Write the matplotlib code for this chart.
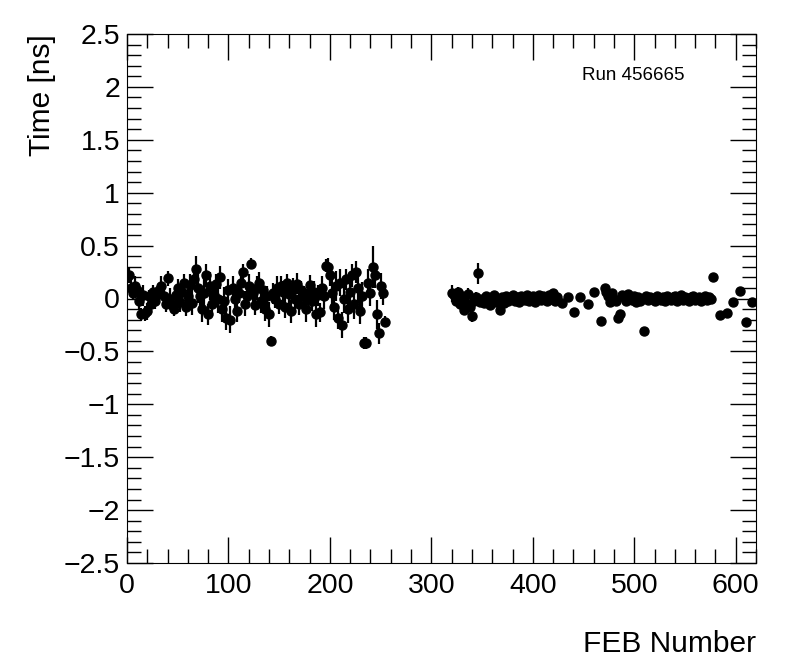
import numpy as np
import matplotlib.pyplot as plt
from matplotlib.ticker import MultipleLocator

plt.rcParams['font.family'] = ['Liberation Sans', 'DejaVu Sans']

# FEB 0-254 (every other FEB)
feb_a = np.arange(0, 256, 2)
time_a = [0.20, 0.22, 0.10, 0.05, 0.12, 0.08, -0.02, -0.15, 0.03, -0.14, -0.12, 0.02, -0.05, 0.06, -0.02, 0.04,
          0.08, 0.12, 0.02, -0.05, 0.19, 0.00, -0.06, -0.10, 0.03, 0.10, -0.03, 0.06, 0.15, -0.08, 0.02, 0.13,
          -0.04, 0.18, 0.28, 0.10, 0.02, -0.10, 0.05, 0.22, -0.15, 0.12, -0.05, 0.03, 0.14, 0.00, 0.20, -0.10,
          -0.02, -0.18, 0.08, -0.20, 0.10, 0.00, -0.12, 0.05, 0.15, 0.25, -0.05, 0.02, 0.12, 0.33, 0.05, -0.06,
          0.10, 0.15, -0.02, 0.08, -0.10, 0.02, -0.15, -0.40, 0.05, 0.00, 0.10, -0.05, 0.12, 0.06, -0.08, 0.15,
          0.04, -0.12, 0.10, 0.00, 0.14, -0.05, 0.08, 0.02, -0.10, 0.05, 0.13, -0.02, 0.06, -0.15, 0.03, -0.13,
          0.10, 0.02, 0.31, 0.30, 0.22, 0.05, -0.08, 0.12, -0.18, 0.15, -0.25, 0.00, 0.18, -0.10, 0.06, 0.22,
          -0.05, 0.25, 0.10, -0.12, 0.02, -0.42, -0.42, 0.15, 0.05, 0.30, 0.22, -0.15, -0.33, 0.12, 0.05, -0.22]
err_a = [0.06, 0.07, 0.08, 0.06, 0.09, 0.07, 0.08, 0.06, 0.10, 0.07, 0.08, 0.06, 0.09, 0.07, 0.08, 0.06,
         0.07, 0.09, 0.06, 0.08, 0.07, 0.10, 0.08, 0.07, 0.09, 0.08, 0.10, 0.07, 0.08, 0.09, 0.07, 0.10,
         0.12, 0.09, 0.12, 0.14, 0.10, 0.12, 0.20, 0.11, 0.10, 0.13, 0.12, 0.10, 0.09, 0.14, 0.11, 0.12,
         0.13, 0.12, 0.10, 0.13, 0.11, 0.12, 0.10, 0.09, 0.11, 0.08, 0.12, 0.10, 0.11, 0.05, 0.09, 0.10,
         0.11, 0.10, 0.12, 0.09, 0.11, 0.10, 0.12, 0.05, 0.10, 0.09, 0.11, 0.10, 0.09, 0.11, 0.10, 0.08,
         0.10, 0.11, 0.09, 0.12, 0.10, 0.11, 0.09, 0.10, 0.12, 0.11, 0.09, 0.10, 0.11, 0.12, 0.10, 0.09,
         0.11, 0.12, 0.06, 0.08, 0.10, 0.13, 0.12, 0.14, 0.11, 0.13, 0.12, 0.14, 0.10, 0.13, 0.12, 0.11,
         0.14, 0.10, 0.13, 0.12, 0.14, 0.06, 0.06, 0.13, 0.12, 0.20, 0.12, 0.14, 0.10, 0.12, 0.11, 0.05]

# FEB 320-424, 472-576 (every other FEB) plus isolated channels
feb_b = list(range(320, 426, 2)) + [429, 435, 441, 447, 454, 460, 467, 471] + list(range(472, 578, 2)) \
    + [578, 585, 591, 597, 604, 610, 616]
time_b = [0.05, 0.03, -0.02, 0.06, -0.05, 0.02, -0.11, -0.04, 0.04, -0.08, -0.17, -0.02, 0.01, 0.24, -0.03, 0.00,
          -0.04, 0.02, -0.02, -0.06, 0.01, 0.03, -0.03, -0.01, -0.11, 0.01, -0.04, 0.02, -0.02, 0.00, 0.03, -0.02,
          0.01, -0.03, 0.02, 0.00, -0.01, 0.03, -0.02, 0.01, 0.02, -0.03, 0.00, 0.03, -0.01, 0.02, 0.01, -0.02,
          0.03, 0.00, 0.05, -0.02, 0.01,
          -0.04, 0.01, -0.13, 0.01, -0.05, 0.06, -0.21, 0.10,
          0.06, 0.02, -0.03, 0.05, 0.00, -0.02, -0.18, -0.15, 0.03, 0.01, -0.02, 0.04, 0.00, -0.01, 0.02, -0.03,
          0.01, -0.02, 0.00, -0.31, 0.02, -0.01, 0.01, 0.00, -0.02, 0.02, 0.00, -0.01, 0.01, -0.02, 0.02, 0.00,
          -0.01, 0.01, 0.02, -0.02, 0.00, 0.03, -0.01, 0.01, 0.00, -0.02, 0.01, 0.02, -0.01, 0.00, 0.01, -0.02,
          0.00, 0.02, -0.01, 0.01, 0.00,
          0.20, -0.16, -0.14, -0.03, 0.07, -0.22, -0.03]
err_b = [0.08, 0.05, 0.04, 0.05, 0.04, 0.06, 0.05, 0.04, 0.06, 0.05, 0.05, 0.04, 0.05, 0.10, 0.04, 0.03,
         0.03, 0.04, 0.03, 0.03, 0.04, 0.03, 0.03, 0.04, 0.03, 0.03, 0.03, 0.04, 0.03, 0.03, 0.03, 0.03,
         0.03, 0.03, 0.03, 0.03, 0.03, 0.03, 0.03, 0.03, 0.03, 0.03, 0.03, 0.03, 0.03, 0.03, 0.03, 0.03,
         0.03, 0.03, 0.03, 0.03, 0.03,
         0.02, 0.02, 0.02, 0.02, 0.02, 0.02, 0.02, 0.02,
         0.03, 0.03, 0.03, 0.03, 0.03, 0.03, 0.03, 0.03, 0.03, 0.03, 0.03, 0.03, 0.04, 0.03, 0.03, 0.03,
         0.03, 0.03, 0.03, 0.03, 0.03, 0.03, 0.03, 0.03, 0.03, 0.03, 0.03, 0.03, 0.03, 0.03, 0.03, 0.03,
         0.03, 0.03, 0.03, 0.03, 0.03, 0.03, 0.03, 0.03, 0.03, 0.03, 0.03, 0.03, 0.03, 0.03, 0.03, 0.03,
         0.03, 0.03, 0.03, 0.03, 0.03,
         0.02, 0.03, 0.02, 0.02, 0.02, 0.02, 0.02]

fig = plt.figure(figsize=(7.96, 6.72), dpi=100)
ax = fig.add_axes([127 / 796, 109 / 672, 629 / 796, 529 / 672])

for x, y, e in [(feb_a, time_a, err_a), (feb_b, time_b, err_b)]:
    ax.errorbar(x, y, yerr=e, fmt='o', color='black', markersize=6.5,
                elinewidth=1.6, capsize=0)

ax.set_xlim(0, 620)
ax.set_ylim(-2.5, 2.5)
ax.xaxis.set_major_locator(MultipleLocator(100))
ax.xaxis.set_minor_locator(MultipleLocator(20))
ax.yaxis.set_major_locator(MultipleLocator(0.5))
ax.yaxis.set_minor_locator(MultipleLocator(0.1))
ax.yaxis.set_major_formatter(plt.FuncFormatter(lambda v, p: f'{v:g}'.replace('-', '\u2212')))
ax.tick_params(which='both', direction='in', top=True, right=True, width=1, labelsize=20.5)
ax.tick_params(axis='x', pad=7)
ax.tick_params(axis='y', pad=5)
ax.tick_params(which='major', length=19)
ax.tick_params(which='minor', length=10)

ax.set_xlabel('FEB Number', fontsize=21.5, loc='right')
ax.xaxis.set_label_coords(1.0, -0.127)
ax.set_ylabel('Time [ns]', fontsize=21.5, loc='top')
ax.yaxis.set_label_coords(-0.113, 1.0)

ax.text(0.723, 0.922, 'Run 456665', transform=ax.transAxes, fontsize=13.5, va='center')

fig.savefig('out.png', dpi=100)
